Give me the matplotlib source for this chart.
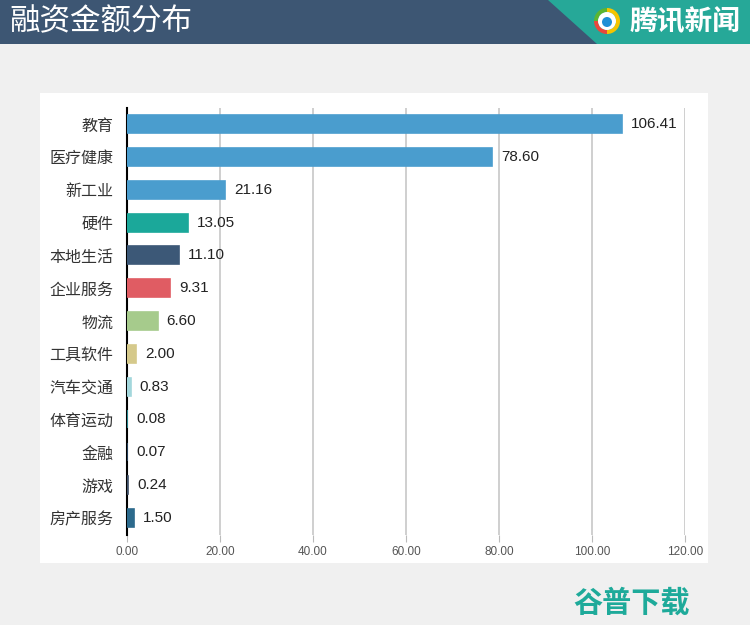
import matplotlib
matplotlib.use("Agg")
import matplotlib.pyplot as plt
from matplotlib.patches import Rectangle, Polygon, Circle, Wedge

plt.rcParams["font.family"] = ["Noto Sans CJK SC", "DejaVu Sans"]

categories = ["教育", "医疗健康", "新工业", "硬件", "本地生活", "企业服务", "物流",
              "工具软件", "汽车交通", "体育运动", "金融", "游戏", "房产服务"]
values = [106.41, 78.60, 21.16, 13.05, 11.10, 9.31, 6.60, 2.00, 0.83, 0.08, 0.07, 0.24, 1.50]
colors = ["#4a9dce", "#4a9dce", "#4a9dce", "#1ba89a", "#3c5877", "#e05c63", "#a6cb8c",
          "#d5c98b", "#a3d7dc", "#2e9fa8", "#2c4b6b", "#3d4e66", "#2c6a8c"]
xticks = [0, 20, 40, 60, 80, 100, 120]

W, H = 750, 625
fig = plt.figure(figsize=(W / 100, H / 100), dpi=100)
fig.patch.set_facecolor("#f0f0f0")

# decoration layer in pixel coordinates
bg = fig.add_axes([0, 0, 1, 1], zorder=0)
bg.set_xlim(0, W)
bg.set_ylim(H, 0)
bg.axis("off")
bg.add_patch(Rectangle((0, 0), W, 44, color="#3d5673", lw=0))
bg.add_patch(Polygon([(548, 0), (W, 0), (W, 44), (597, 44)], color="#26a898", lw=0))
bg.add_patch(Rectangle((40, 93), 668, 470, color="white", lw=0))
bg.text(9, 22, "融资金额分布", color="white", fontsize=22, va="center", ha="left")

# logo
cx, cy = 607, 21
ring = [(0, 90, "#f5c400"), (90, 180, "#e8473b"), (180, 270, "#5bb531"), (270, 360, "#f5c400")]
for a0, a1, c in ring:
    bg.add_patch(Wedge((cx, cy), 13, a0, a1, width=4, color=c, lw=0))
bg.add_patch(Circle((cx, cy), 9, color="white", lw=0))
bg.add_patch(Circle((cx, cy + 1), 5, color="#1e8fd6", lw=0))
bg.text(685, 22, "腾讯新闻", color="white", fontsize=20, fontweight="bold",
        va="center", ha="center")

bg.text(632, 603, "谷普下载", color="#1eaa9a", fontsize=21, fontweight="bold",
        va="center", ha="center")

# chart
ax = fig.add_axes([127 / W, (H - 535) / H, (685 - 127) / W, (535 - 108) / H], zorder=1)
ax.patch.set_alpha(0)
y = list(range(len(categories)))
ax.barh(y, values, height=0.55, color=colors, edgecolor=colors, lw=1.2, zorder=4)
for yi, v in zip(y, values):
    ax.text(v + 1.9, yi, f"{v:.2f}", va="center", ha="left", fontsize=11,
            family=["Liberation Sans", "DejaVu Sans"], color="#222222")

ax.set_xlim(0, 120)
ax.set_ylim(12.52, -0.49)
ax.set_xticks(xticks)
ax.set_xticklabels([f"{t:.2f}" for t in xticks], fontsize=8.5, color="#555555",
                   family=["Liberation Sans", "DejaVu Sans"])
ax.set_yticks(y)
ax.set_yticklabels(categories, fontsize=11.5, color="#333333")
ax.tick_params(axis="y", length=0, pad=10)
ax.tick_params(axis="x", length=5, color="#bbbbbb", pad=3)
ax.grid(axis="x", color="#cccccc", lw=1.3, zorder=1)
for s in ["top", "right", "bottom"]:
    ax.spines[s].set_visible(False)
ax.spines["left"].set_color("black")
ax.spines["left"].set_linewidth(1.5)
ax.spines["left"].set_zorder(3)

fig.savefig("out.png", dpi=100, facecolor=fig.get_facecolor())
